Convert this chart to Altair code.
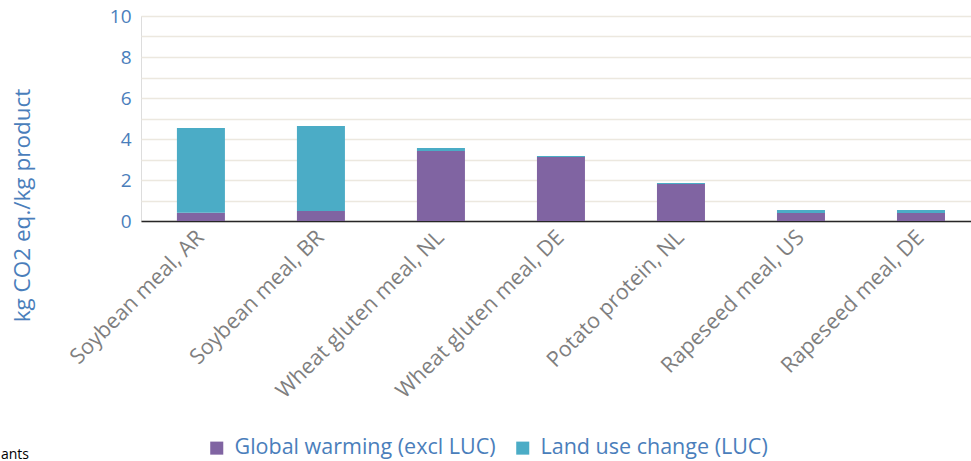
import altair as alt
import pandas as pd

# Feed ingredients and their footprint components (kg CO2 eq. per kg product)
products = [
    "Soybean meal, AR",
    "Soybean meal, BR",
    "Wheat gluten meal, NL",
    "Wheat gluten meal, DE",
    "Potato protein, NL",
    "Rapeseed meal, US",
    "Rapeseed meal, DE",
]
global_warming = [0.40, 0.49, 3.41, 3.12, 1.80, 0.39, 0.39]
land_use_change = [4.14, 4.14, 0.15, 0.05, 0.05, 0.15, 0.15]

series = ["Global warming (excl LUC)", "Land use change (LUC)"]
colors = ["#8064A2", "#4BACC6"]

rows = []
for p, gw, luc in zip(products, global_warming, land_use_change):
    rows.append({"product": p, "series": series[0], "value": gw, "rank": 0})
    rows.append({"product": p, "series": series[1], "value": luc, "rank": 1})
df = pd.DataFrame(rows)

FONT = "Open Sans"
BLUE = "#4A7EBB"

bars = alt.Chart(df).mark_bar().encode(
    x=alt.X(
        "product:N",
        sort=products,
        scale=alt.Scale(paddingInner=0.6, paddingOuter=0.258, align=0.58),
        axis=alt.Axis(
            title=None,
            labelAngle=-45,
            labelAlign="right",
            labelBaseline="middle",
            labelPadding=13,
            labelFontSize=21.5,
            labelColor="#7F7F7F",
            labelFont=FONT,
            ticks=False,
            domainColor="#262626",
            domainWidth=1.5,
            labelLimit=400,
        ),
    ),
    y=alt.Y(
        "value:Q",
        stack="zero",
        scale=alt.Scale(domain=[0, 10], nice=False),
        axis=alt.Axis(
            title="kg CO2 eq./kg product",
            values=list(range(0, 11)),
            labelExpr="datum.value % 2 == 0 ? datum.label : ''",
            labelFontSize=19,
            labelColor=BLUE,
            labelFont=FONT,
            labelPadding=10,
            ticks=False,
            domain=False,
            grid=True,
            gridColor="#ECE8DF",
            gridWidth=1.5,
            titleFont=FONT,
            titleFontSize=22.5,
            titleFontWeight="normal",
            titleColor=BLUE,
            titleAngle=270,
            titleAlign="center",
            titleBaseline="middle",
            titleX=-119,
            titleY=189,
        ),
    ),
    color=alt.Color(
        "series:N",
        scale=alt.Scale(domain=series, range=colors),
        legend=alt.Legend(
            title=None,
            orient="none",
            direction="horizontal",
            legendX=65,
            legendY=421,
            symbolType="square",
            symbolSize=170,
            symbolStrokeWidth=0,
            labelFont=FONT,
            labelFontSize=21.5,
            labelColor=BLUE,
            labelOffset=7,
            columnPadding=16,
            labelLimit=400,
        ),
    ),
    order=alt.Order("rank:Q", sort="ascending"),
)

note = alt.Chart(pd.DataFrame({"t": ["ants"]})).mark_text(
    align="left", baseline="middle", fontSize=14, font=FONT, color="#000000"
).encode(text="t:N", x=alt.value(-140), y=alt.value(439))

chart = (
    alt.layer(bars, note)
    .properties(
        width=830,
        height=205,
        autosize=alt.AutoSizeParams(type="none"),
        padding={"left": 141, "top": 16, "right": 0, "bottom": 240},
    )
    .configure_view(stroke=None)
    .configure(background="white")
)

chart.save("out.html", embed_options={"renderer": "svg", "actions": False})
